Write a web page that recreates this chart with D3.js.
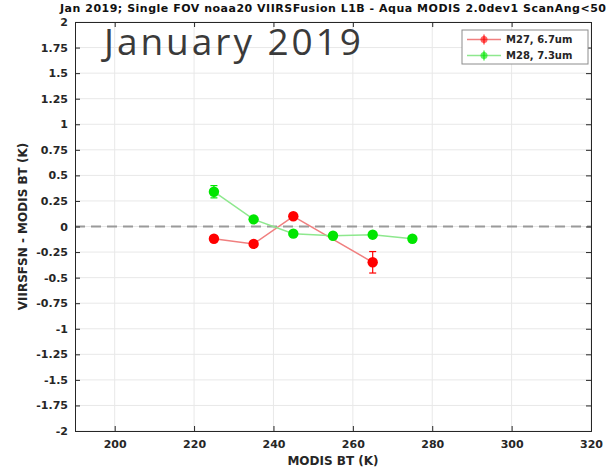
<!DOCTYPE html>
<html>
<head>
<meta charset="utf-8">
<script src="https://cdn.jsdelivr.net/npm/d3@7"></script>
<style>
  body { margin: 0; background: #fff; }
  text { font-family: "DejaVu Sans", sans-serif; }
</style>
</head>
<body>
<div id="vis"></div>
<script>
// data
var m27_x = [225, 235, 245, 265];
var m27_y = [-0.12, -0.17, 0.10, -0.35];
var m27_err = [0.02, 0.01, 0.01, 0.105];

var m28_x = [225, 235, 245, 255, 265, 275];
var m28_y = [0.34, 0.07, -0.07, -0.09, -0.08, -0.12];
var m28_err = [0.06, 0.01, 0.01, 0.01, 0.01, 0.03];

var x_ticks = [200, 220, 240, 260, 280, 300, 320];
var y_ticks = [-2, -1.75, -1.5, -1.25, -1, -0.75, -0.5, -0.25, 0, 0.25, 0.5, 0.75, 1, 1.25, 1.5, 1.75, 2];

var width = 612, height = 469;
var m_left = 75, m_right = 591, m_top = 22, m_bottom = 431;

var svg = d3.select("#vis").append("svg")
  .attr("width", width)
  .attr("height", height);

var x = d3.scaleLinear().domain([190, 320]).range([m_left, m_right]);
var y = d3.scaleLinear().domain([-2, 2]).range([m_bottom, m_top]);

// grid
var g = svg.append("g");
g.selectAll(".gx").data(x_ticks).enter().append("line")
  .attr("x1", d => x(d)).attr("x2", d => x(d))
  .attr("y1", m_top).attr("y2", m_bottom)
  .attr("stroke", "#e8e8e8").attr("stroke-width", 1);
g.selectAll(".gy").data(y_ticks).enter().append("line")
  .attr("x1", m_left).attr("x2", m_right)
  .attr("y1", d => y(d)).attr("y2", d => y(d))
  .attr("stroke", "#e8e8e8").attr("stroke-width", 1);

// big overlay text
svg.append("text")
  .attr("x", 104).attr("y", 55)
  .style("font-family", "'Open Sans', sans-serif")
  .attr("font-size", 37)
  .attr("fill", "#3a3a3a")
  .attr("textLength", 257)
  .text("January 2019");

// zero line
svg.append("line")
  .attr("x1", m_left).attr("x2", m_right)
  .attr("y1", y(0)).attr("y2", y(0))
  .attr("stroke", "#9a9a9a").attr("stroke-width", 2)
  .attr("stroke-dasharray", "10,6");

// axes (ticks pointing inward, box); plain hyphen for negatives like the original
var axB = d3.axisBottom(x).tickValues(x_ticks).tickSize(-5).tickPadding(9).tickFormat(d3.format("d"));
var axL = d3.axisLeft(y).tickValues(y_ticks).tickSize(-5).tickPadding(7).tickFormat(d => String(d));
var axT = d3.axisTop(x).tickValues(x_ticks).tickSize(-5).tickFormat("");
var axR = d3.axisRight(y).tickValues(y_ticks).tickSize(-5).tickFormat("");

function style_axis(sel) {
  sel.select(".domain").attr("stroke", "#262626");
  sel.selectAll(".tick line").attr("stroke", "#262626");
  sel.selectAll(".tick text")
    .attr("fill", "#262626")
    .attr("font-size", 11)
    .attr("font-weight", "bold")
    .style("font-family", "'DejaVu Sans', sans-serif");
}
svg.append("g").attr("transform", "translate(0," + m_bottom + ")").call(axB).call(style_axis);
svg.append("g").attr("transform", "translate(" + m_left + ",0)").call(axL).call(style_axis);
svg.append("g").attr("transform", "translate(0," + m_top + ")").call(axT).call(style_axis);
svg.append("g").attr("transform", "translate(" + m_right + ",0)").call(axR).call(style_axis);

// series
var series = [
  { name: "M27, 6.7um", xs: m27_x, ys: m27_y, es: m27_err, line: "#f07f7f", dot: "#ff0000" },
  { name: "M28, 7.3um", xs: m28_x, ys: m28_y, es: m28_err, line: "#8ee88e", dot: "#00e600" }
];

var line = d3.line().x(d => x(d.x)).y(d => y(d.y));

series.forEach(function(s) {
  var pts = s.xs.map((v, i) => ({ x: v, y: s.ys[i], e: s.es[i] }));
  var sg = svg.append("g");
  sg.append("path").datum(pts)
    .attr("d", line)
    .attr("fill", "none")
    .attr("stroke", s.line)
    .attr("stroke-width", 1.5);
  var eb = sg.selectAll(".eb").data(pts).enter().append("g");
  eb.append("line")
    .attr("x1", d => x(d.x)).attr("x2", d => x(d.x))
    .attr("y1", d => y(d.y + d.e)).attr("y2", d => y(d.y - d.e))
    .attr("stroke", s.dot).attr("stroke-width", 1.2);
  eb.append("line")
    .attr("x1", d => x(d.x) - 3.5).attr("x2", d => x(d.x) + 3.5)
    .attr("y1", d => y(d.y + d.e)).attr("y2", d => y(d.y + d.e))
    .attr("stroke", s.dot).attr("stroke-width", 1.2);
  eb.append("line")
    .attr("x1", d => x(d.x) - 3.5).attr("x2", d => x(d.x) + 3.5)
    .attr("y1", d => y(d.y - d.e)).attr("y2", d => y(d.y - d.e))
    .attr("stroke", s.dot).attr("stroke-width", 1.2);
  sg.selectAll(".pt").data(pts).enter().append("circle")
    .attr("cx", d => x(d.x)).attr("cy", d => y(d.y))
    .attr("r", 5.2)
    .attr("fill", s.dot);
});

// legend
var lg = svg.append("g");
lg.append("rect")
  .attr("x", 462).attr("y", 30).attr("width", 126).attr("height", 34)
  .attr("fill", "#fff").attr("stroke", "#8c8c8c").attr("stroke-width", 1);
series.forEach(function(s, i) {
  var ly = 39.5 + i * 16;
  lg.append("line").attr("x1", 467).attr("x2", 501).attr("y1", ly).attr("y2", ly)
    .attr("stroke", s.line).attr("stroke-width", 1.5);
  lg.append("line").attr("x1", 484).attr("x2", 484).attr("y1", ly - 5).attr("y2", ly + 5)
    .attr("stroke", s.dot).attr("stroke-width", 1);
  lg.append("circle").attr("cx", 484).attr("cy", ly).attr("r", 3.5)
    .attr("fill", s.dot).attr("opacity", 0.6);
  lg.append("text").attr("x", 506).attr("y", ly + 3.5)
    .attr("font-size", 10).attr("font-weight", "bold").attr("fill", "#262626")
    .text(s.name);
});

// title and labels
svg.append("text")
  .attr("x", 333).attr("y", 12)
  .attr("text-anchor", "middle")
  .attr("font-size", 11).attr("font-weight", "bold").attr("fill", "#111")
  .attr("textLength", 546)
  .text("Jan 2019; Single FOV noaa20 VIIRSFusion L1B - Aqua MODIS 2.0dev1 ScanAng<50");

svg.append("text")
  .attr("x", 333).attr("y", 465)
  .attr("text-anchor", "middle")
  .attr("font-size", 12).attr("font-weight", "bold").attr("fill", "#262626")
  .text("MODIS BT (K)");

svg.append("text")
  .attr("transform", "translate(27," + y(0) + ") rotate(-90)")
  .attr("text-anchor", "middle")
  .attr("font-size", 12).attr("font-weight", "bold").attr("fill", "#262626")
  .text("VIIRSFSN - MODIS BT (K)");
</script>
</body>
</html>
